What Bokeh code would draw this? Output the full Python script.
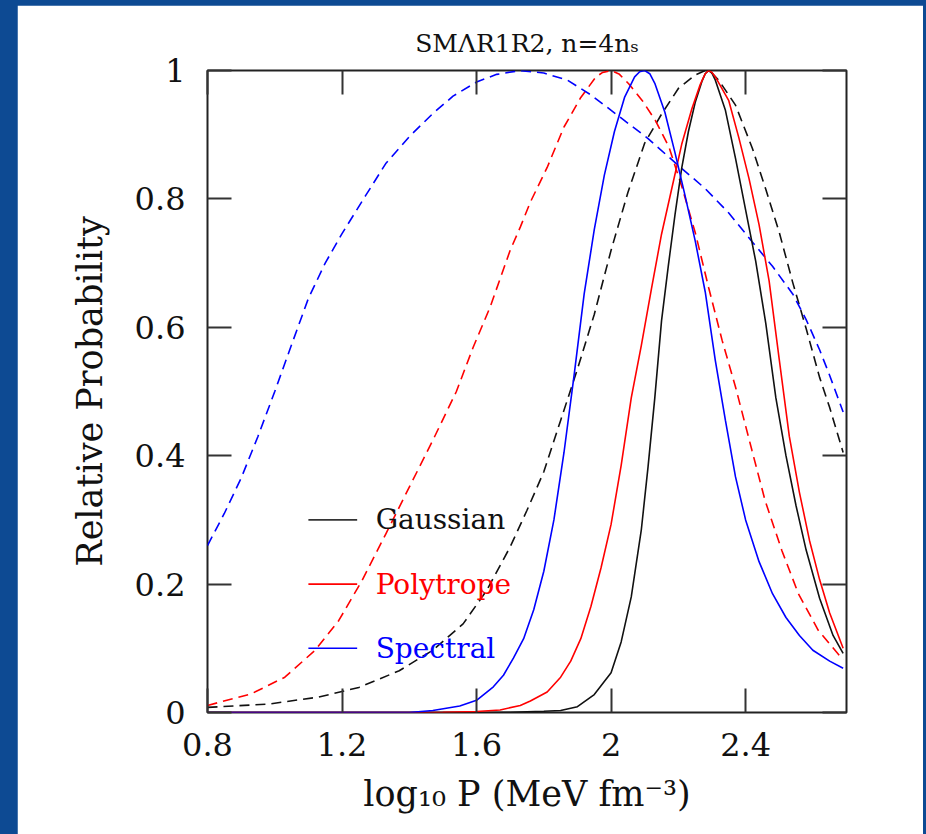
from bokeh.plotting import figure
from bokeh.models import LinearAxis, FixedTicker, Range1d
from bokeh.layouts import column
from bokeh.embed import file_html
from bokeh.resources import INLINE
from bokeh.core.properties import value

# ---------------- data ----------------
x_ticks = [0.8, 1.2, 1.6, 2.0, 2.4]
x_tick_labels = ["0.8", "1.2", "1.6", "2", "2.4"]
y_ticks = [0.0, 0.2, 0.4, 0.6, 0.8, 1.0]
y_tick_labels = ["0", "0.2", "0.4", "0.6", "0.8", "1"]

title_text = "SMΛR1R2, n=4nₛ"
x_label = "log₁₀ P (MeV fm⁻³)"
y_label = "Relative Probability"
series_names = ["Gaussian", "Polytrope", "Spectral"]

# Gaussian, solid
gauss_solid_x = [0.80, 1.60, 1.70, 1.80, 1.85, 1.90, 1.95, 2.00, 2.03, 2.06, 2.09, 2.11, 2.13,
                 2.15, 2.17, 2.19, 2.21, 2.23, 2.25, 2.27, 2.28, 2.29, 2.30, 2.31, 2.34, 2.37,
                 2.40, 2.43, 2.46, 2.49, 2.52, 2.55, 2.58, 2.62, 2.66, 2.69]
gauss_solid_y = [0.0, 0.0, 0.0005, 0.002, 0.003, 0.009, 0.028, 0.062, 0.11, 0.18, 0.285, 0.383, 0.49,
                 0.61, 0.695, 0.775, 0.848, 0.905, 0.95, 0.983, 0.995, 1.0, 0.996, 0.985, 0.938, 0.863,
                 0.783, 0.703, 0.606, 0.49, 0.40, 0.322, 0.253, 0.178, 0.12, 0.092]

# Gaussian, dashed
gauss_dash_x = [0.80, 0.98, 1.13, 1.25, 1.37, 1.47, 1.56, 1.63, 1.70, 1.75, 1.80, 1.85, 1.90,
                1.95, 2.00, 2.05, 2.10, 2.15, 2.20, 2.25, 2.28, 2.30, 2.32, 2.37, 2.42, 2.46,
                2.50, 2.54, 2.58, 2.62, 2.65, 2.69]
gauss_dash_y = [0.008, 0.013, 0.024, 0.039, 0.065, 0.097, 0.138, 0.19, 0.258, 0.315, 0.375, 0.455, 0.535,
                0.62, 0.72, 0.81, 0.887, 0.932, 0.972, 0.993, 1.0, 0.996, 0.985, 0.946, 0.879, 0.815,
                0.748, 0.67, 0.598, 0.522, 0.475, 0.405]

# Polytrope, solid
poly_solid_x = [0.80, 1.50, 1.60, 1.67, 1.73, 1.76, 1.81, 1.85, 1.88, 1.91, 1.94, 1.97, 2.00,
                2.03, 2.06, 2.09, 2.12, 2.15, 2.18, 2.21, 2.24, 2.265, 2.28, 2.29, 2.30, 2.31,
                2.35, 2.38, 2.41, 2.44, 2.47, 2.50, 2.53, 2.56, 2.59, 2.62, 2.65, 2.69]
poly_solid_y = [0.0, 0.0005, 0.0015, 0.004, 0.011, 0.018, 0.032, 0.055, 0.08, 0.115, 0.165, 0.225, 0.293,
                0.385, 0.49, 0.572, 0.66, 0.745, 0.815, 0.885, 0.94, 0.978, 0.995, 1.0, 0.997, 0.99,
                0.953, 0.895, 0.832, 0.76, 0.672, 0.55, 0.43, 0.343, 0.268, 0.207, 0.155, 0.10]

# Polytrope, dashed
poly_dash_x = [0.80, 0.93, 1.03, 1.12, 1.19, 1.26, 1.33, 1.40, 1.47, 1.54, 1.59, 1.64, 1.70,
               1.73, 1.76, 1.81, 1.86, 1.91, 1.955, 1.975, 2.00, 2.025, 2.053, 2.093, 2.132, 2.172,
               2.211, 2.251, 2.29, 2.33, 2.37, 2.419, 2.458, 2.508, 2.557, 2.616, 2.69]
poly_dash_y = [0.011, 0.029, 0.055, 0.097, 0.143, 0.206, 0.278, 0.351, 0.424, 0.50, 0.569, 0.631, 0.72,
               0.756, 0.795, 0.849, 0.912, 0.958, 0.99, 0.997, 1.0, 0.994, 0.979, 0.953, 0.922, 0.881,
               0.818, 0.746, 0.662, 0.58, 0.507, 0.408, 0.33, 0.252, 0.185, 0.128, 0.082]

# Spectral, solid
spec_solid_x = [0.80, 1.40, 1.47, 1.55, 1.60, 1.65, 1.68, 1.71, 1.74, 1.77, 1.80, 1.83, 1.86,
                1.89, 1.92, 1.95, 1.98, 2.01, 2.04, 2.07, 2.085, 2.10, 2.115, 2.13, 2.16, 2.19,
                2.22, 2.25, 2.28, 2.31, 2.34, 2.37, 2.40, 2.44, 2.48, 2.52, 2.56, 2.60, 2.65, 2.69]
spec_solid_y = [0.0, 0.0, 0.003, 0.01, 0.019, 0.04, 0.058, 0.085, 0.115, 0.16, 0.22, 0.30, 0.405,
                0.525, 0.652, 0.752, 0.837, 0.905, 0.958, 0.99, 0.998, 1.0, 0.995, 0.98, 0.935, 0.872,
                0.805, 0.735, 0.655, 0.548, 0.455, 0.367, 0.30, 0.235, 0.185, 0.148, 0.12, 0.097, 0.08, 0.069]

# Spectral, dashed
spec_dash_x = [0.80, 0.85, 0.90, 0.95, 1.00, 1.05, 1.10, 1.15, 1.20, 1.27, 1.33, 1.40, 1.47,
               1.53, 1.60, 1.66, 1.73, 1.80, 1.87, 1.94, 2.02, 2.11, 2.20, 2.28, 2.35, 2.42,
               2.48, 2.54, 2.58, 2.62, 2.65, 2.69]
spec_dash_y = [0.26, 0.31, 0.365, 0.43, 0.50, 0.573, 0.645, 0.70, 0.746, 0.805, 0.855, 0.897, 0.933,
               0.96, 0.982, 0.994, 1.0, 0.996, 0.985, 0.962, 0.93, 0.894, 0.852, 0.816, 0.778, 0.733,
               0.695, 0.652, 0.612, 0.565, 0.525, 0.468]

# ---------------- styling ----------------
BLACK = "#111111"
RED = "#ff0000"
BLUE = "#0000ff"
FONT = "DejaVu Serif"
DASH = "10 6"
LW = 1.6

p = figure(width=906, height=829,
           x_range=Range1d(0.8, 2.7), y_range=Range1d(0.0, 1.0),
           output_backend="svg", toolbar_location=None,
           min_border_left=190, min_border_right=77,
           min_border_top=65, min_border_bottom=122)

p.background_fill_color = "white"
p.border_fill_color = "white"
p.outline_line_color = "#222222"
p.outline_line_width = 2
p.xgrid.visible = False
p.ygrid.visible = False

p.title.text = title_text
p.title.align = "center"
p.title.offset = 6
p.title.text_font = FONT
p.title.text_font_size = "25px"
p.title.text_font_style = "normal"
p.title.text_color = BLACK
p.title.standoff = 25

def style_axis(ax, ticks, labels, show_labels, standoff):
    ax.ticker = FixedTicker(ticks=ticks)
    ax.major_label_overrides = dict(zip(ticks, labels))
    ax.axis_line_color = None
    ax.major_tick_in = 24
    ax.major_tick_out = 0
    ax.minor_tick_in = 0
    ax.minor_tick_out = 0
    ax.major_tick_line_color = "#333333"
    ax.major_tick_line_width = 2
    ax.major_label_text_font = FONT
    ax.major_label_text_color = BLACK
    ax.major_label_standoff = standoff
    if show_labels:
        ax.major_label_text_font_size = "32px"
    else:
        ax.major_label_text_font_size = "0px"
        ax.major_label_text_alpha = 0.0

style_axis(p.xaxis[0], x_ticks, x_tick_labels, True, 20)
style_axis(p.yaxis[0], y_ticks, y_tick_labels, True, 22)

p.xaxis[0].axis_label = x_label
p.yaxis[0].axis_label = y_label
for ax in (p.xaxis[0], p.yaxis[0]):
    ax.axis_label_text_font = FONT
    ax.axis_label_text_font_size = "35px"
    ax.axis_label_text_font_style = "normal"
    ax.axis_label_text_color = BLACK
p.xaxis[0].axis_label_standoff = 15
p.yaxis[0].axis_label_standoff = 22

top_axis = LinearAxis()
style_axis(top_axis, x_ticks, x_tick_labels, False, 0)
p.add_layout(top_axis, "above")
right_axis = LinearAxis()
style_axis(right_axis, y_ticks, y_tick_labels, False, 0)
p.add_layout(right_axis, "right")

# ---------------- curves ----------------
p.line(gauss_dash_x, gauss_dash_y, line_color=BLACK, line_width=LW, line_dash=DASH)
p.line(poly_dash_x, poly_dash_y, line_color=RED, line_width=LW, line_dash=DASH)
p.line(spec_dash_x, spec_dash_y, line_color=BLUE, line_width=LW, line_dash=DASH)
p.line(gauss_solid_x, gauss_solid_y, line_color=BLACK, line_width=LW)
p.line(poly_solid_x, poly_solid_y, line_color=RED, line_width=LW)
p.line(spec_solid_x, spec_solid_y, line_color=BLUE, line_width=LW)

# ---------------- legend (drawn inside the frame) ----------------
leg_x0, leg_x1, leg_tx = 1.10, 1.245, 1.30
leg_y = [0.30, 0.20, 0.10]
leg_colors = ["#333333", RED, BLUE]
leg_text_colors = [BLACK, RED, BLUE]
p.segment(x0=[leg_x0] * 3, x1=[leg_x1] * 3, y0=leg_y, y1=leg_y,
          line_color=leg_colors, line_width=LW)
p.text(x=[leg_tx] * 3, y=leg_y, text=series_names, text_color=leg_text_colors,
       text_font=value(FONT), text_font_size="28px", text_baseline="middle", text_align="left")

layout = column(p, styles={"background-color": "#0d4a93",
                           "padding-left": "17px", "padding-top": "5px",
                           "padding-right": "3px", "padding-bottom": "0px"})

open("out.html", "w").write(file_html(layout, INLINE))
